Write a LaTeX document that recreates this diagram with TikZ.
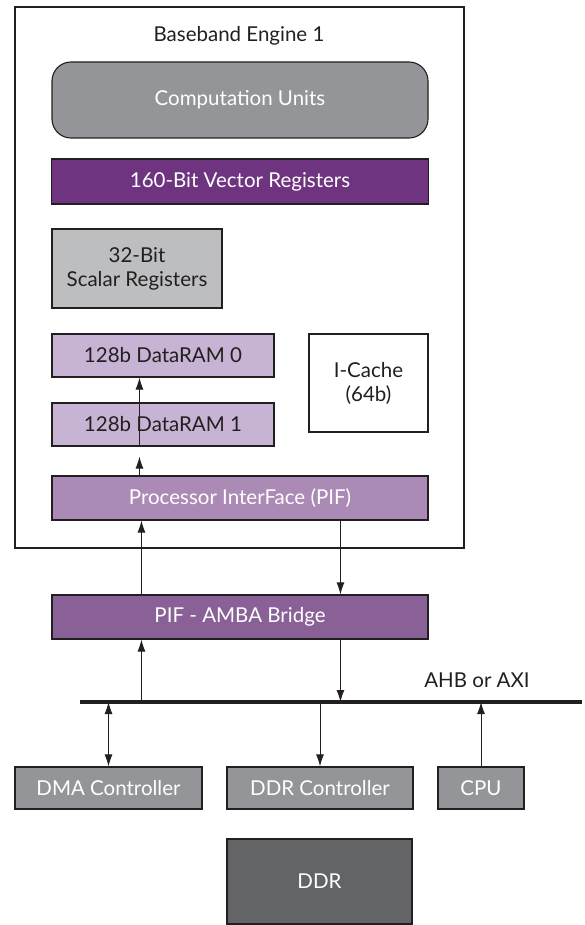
\documentclass[tikz,border=0pt]{standalone}
\usepackage{fontspec}
\setmainfont{Lato}
\usepackage{tikz}
\usetikzlibrary{arrows.meta}
\usetikzlibrary{positioning}
\tikzset{blk/.style = {draw=edge, line width=1.1pt, inner sep = 0, font=\fontsize{20.5}{24}\selectfont, align=center}}
\tikzset{arr/.style = {line width=1pt, -{Latex[length=12pt, width=8pt]}}}
\definecolor{edge}{HTML}{231F20}
\definecolor{cgray}{HTML}{939598}
\definecolor{lgray}{HTML}{BCBEC0}
\definecolor{dgray}{HTML}{636466}
\definecolor{vpurple}{HTML}{6E3480}
\definecolor{rpurple}{HTML}{C7B4D4}
\definecolor{ppurple}{HTML}{AB8BB5}
\definecolor{bpurple}{HTML}{8A6196}

\begin{document}
\begin{tikzpicture}[x=1pt, y=-1pt]
      \useasboundingbox (0, 0) rectangle (584, 925);
      % baseband engine
      \node [draw=edge, line width=1.1pt, minimum width=449, minimum height=541] (engine) at (239.5, 277.5) {};
      \node [font=\fontsize{20.5}{24}\selectfont, text=edge] (title) at (239, 36) {Baseband Engine 1};
      \node [blk, fill=cgray, text=white, rounded corners=19, minimum width=376, minimum height=76] (comp) at (240, 100) {Computation Units};
      \node [blk, fill=vpurple, text=white, minimum width=377, minimum height=45] (vec) at (240, 181.5) {160-Bit Vector Registers};
      \node [blk, fill=lgray, text=edge, minimum width=170, minimum height=79] (scal) at (137, 268.5) {32-Bit\\Scalar Registers};
      \node [blk, fill=rpurple, text=edge, minimum width=222, minimum height=43] (ram0) at (163, 355.5) {128b DataRAM 0};
      \node [blk, fill=rpurple, text=edge, minimum width=222, minimum height=43] (ram1) at (163, 424.5) {128b DataRAM 1};
      \node [blk, fill=white, text=edge, minimum width=119, minimum height=98] (icache) at (368.5, 383) {I-Cache\\(64b)};
      \node [blk, fill=ppurple, text=white, minimum width=376, minimum height=44] (pif) at (240, 498) {Processor InterFace (PIF)};
      \node [blk, fill=bpurple, text=white, minimum width=376, minimum height=44] (bridge) at (240, 617) {PIF - AMBA Bridge};

      % bus
      \coordinate (busL) at (80, 702);
      \coordinate (busR) at (582, 702);
      \draw [line width=4.5pt, edge] (busL) -- (busR);
      \node [font=\fontsize{20.5}{24}\selectfont, text=edge] (ahb) at (477, 680) {AHB or AXI};

      \node [blk, fill=cgray, text=white, minimum width=187, minimum height=42] (dma) at (108.5, 788) {DMA Controller};
      \node [blk, fill=cgray, text=white, minimum width=186, minimum height=42] (ddrc) at (320, 788) {DDR Controller};
      \node [blk, fill=cgray, text=white, minimum width=86, minimum height=42] (cpu) at (481, 788) {CPU};
      \node [blk, fill=dgray, text=white, minimum width=185, minimum height=85] (ddr) at (319.5, 881.5) {DDR};

      % connectors
      \draw [arr, edge] ([xshift=88]pif.north west) -- ([xshift=88, yshift=-10]ram1.south west);
      \draw [arr, edge] ([xshift=88]ram1.south west) -- ([xshift=88]ram0.south west);
      \draw [arr, edge] ([xshift=90]bridge.north west) -- ([xshift=90]pif.south west);
      \draw [arr, edge] ([xshift=289]pif.south west) -- ([xshift=289]bridge.north west);
      \draw [arr, edge] ([xshift=90]bridge.south west |- busL) -- ([xshift=90]bridge.south west);
      \draw [arr, edge] ([xshift=289]bridge.south west) -- ([xshift=289]bridge.south west |- busL);
      \draw [arr, {Latex[length=12pt, width=8pt]}-{Latex[length=12pt, width=8pt]}, edge] (dma.north |- busL) -- (dma.north);
      \draw [arr, edge] (ddrc.north |- busL) -- (ddrc.north);
      \draw [arr, edge] (cpu.north) -- (cpu.north |- busL);
    \end{tikzpicture}
\end{document}
